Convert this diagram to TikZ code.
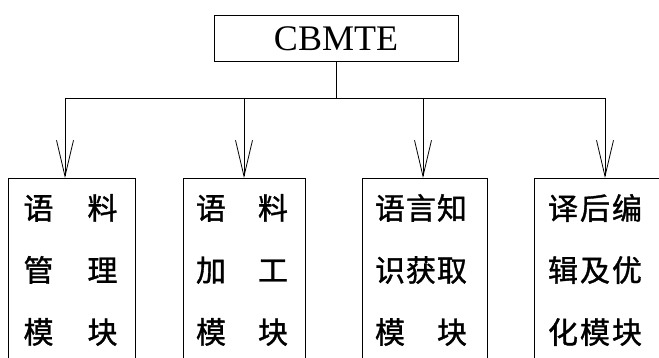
\documentclass[tikz,border=0pt]{standalone}
\usepackage{fontspec}
\setmainfont{Liberation Serif}
\newfontfamily\cjk[FakeBold=1.2]{Noto Sans CJK SC}
\usetikzlibrary{arrows.meta}
\begin{document}
\begin{tikzpicture}[x=1pt,y=-1pt,
  line width=0.8pt,
  topbox/.style={draw, rectangle, minimum width=244pt, minimum height=46pt, inner sep=0pt, font=\fontsize{36}{40}\selectfont},
  modbox/.style={draw, rectangle, anchor=north west, inner sep=0pt},
  modtext/.style={inner sep=0pt, align=center, font=\cjk\fontsize{30}{62}\selectfont},
  arr/.style={-{Straight Barb[length=36pt,width=17pt,line width=0.8pt]}}]
\useasboundingbox (0,0) rectangle (659,358);
\clip (0,0) rectangle (659,358);
\fill[white] (0,0) rectangle (659,358);
\node[topbox] (top) at (336,38.5) {CBMTE};
\node[modbox, minimum width=127pt, minimum height=200pt] (b1) at (8,178) {};
\node[modbox, minimum width=122pt, minimum height=200pt] (b2) at (183,178) {};
\node[modbox, minimum width=125pt, minimum height=200pt] (b3) at (362,178) {};
\node[modbox, minimum width=160pt, minimum height=200pt] (b4) at (534,178) {};
\node[modtext] (t1) at (70.5,270) {\hbox to 94pt{语\hfill 料}\\\hbox to 94pt{管\hfill 理}\\\hbox to 94pt{模\hfill 块}};
\node[modtext] (t2) at (242,270) {\hbox to 92pt{语\hfill 料}\\\hbox to 92pt{加\hfill 工}\\\hbox to 92pt{模\hfill 块}};
\node[modtext] (t3) at (421,270) {\hbox to 92pt{语\hfill 言\hfill 知}\\\hbox to 92pt{识\hfill 获\hfill 取}\\\hbox to 92pt{模\hfill 块}};
\node[modtext] (t4) at (595,270) {\hbox to 94pt{译\hfill 后\hfill 编}\\\hbox to 94pt{辑\hfill 及\hfill 优}\\\hbox to 94pt{化\hfill 模\hfill 块}};
\coordinate (c1) at (65,98);
\coordinate (c2) at (244,98);
\coordinate (c3) at (423,98);
\coordinate (c4) at (605,98);
\draw (top.south) -- (top.south |- c1);
\draw (c1) -- (c4);
\draw[arr] (c1) -- (c1 |- b1.north);
\draw[arr] (c2) -- (c2 |- b2.north);
\draw[arr] (c3) -- (c3 |- b3.north);
\draw[arr] (c4) -- (c4 |- b4.north);
\end{tikzpicture}
\end{document}
